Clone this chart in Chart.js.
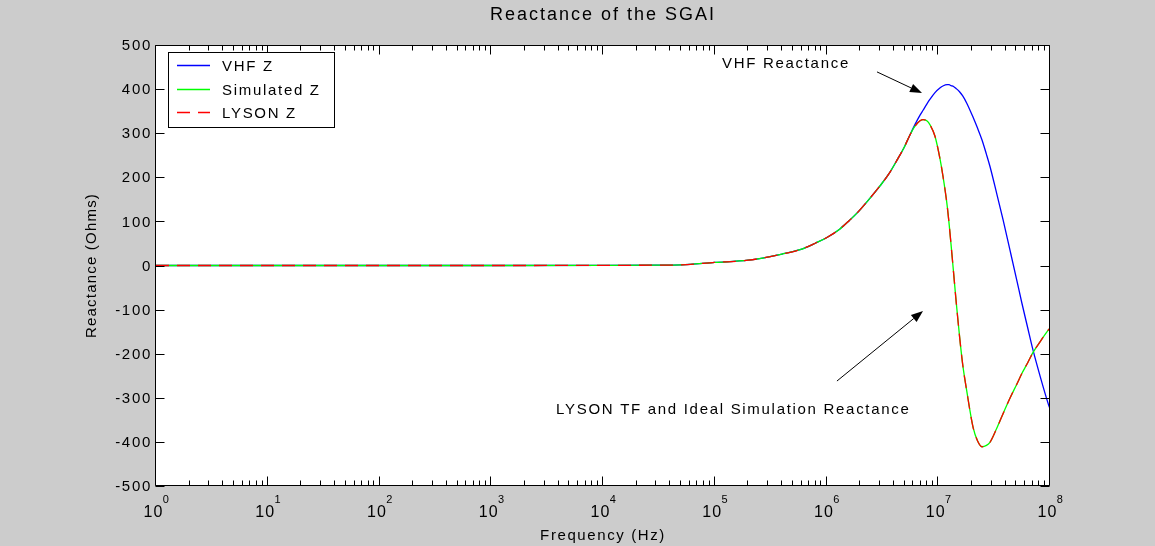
<!DOCTYPE html>
<html>
<head>
<meta charset="utf-8">
<title>Reactance of the SGAI</title>
<script src="https://cdn.jsdelivr.net/npm/chart.js@4"></script>
<style>
  html, body { margin: 0; padding: 0; background: #cccccc; }
  canvas { display: block; }
</style>
</head>
<body>
<canvas id="reactanceChart" width="1155" height="546"></canvas>
<script>
// Frequency points (Hz) shared by the three traces
const frequencies = [1, 10, 100, 1e3, 1e4, 3e4, 5e4, 1e5, 2e5, 4e5, 5.8e5, 8e5,
  1e6, 1.32e6, 1.6e6, 1.91e6, 2.4e6, 3e6, 3.6e6, 4.3e6, 5e6, 5.58e6, 6.2e6, 6.87e6,
  7.31e6, 7.9e6, 8.44e6, 9.35e6, 1.04e7, 1.1e7, 1.2e7, 1.25e7, 1.3e7, 1.37e7, 1.45e7,
  1.55e7, 1.65e7, 1.8e7, 2.05e7, 2.25e7, 2.46e7, 2.7e7, 2.9e7, 3.3e7, 3.8e7, 4.4e7,
  5.07e7, 5.6e7, 6.3e7, 7.05e7, 8.2e7, 9.6e7, 1e8];

// Reactance in Ohms
const vhfZ = [0, 0, 0, 0, 0.3, 0.8, 1.5, 7, 12, 26, 36, 51,
  63, 83, 102, 121, 150, 180, 207, 240, 270, 296, 320, 341,
  352, 366, 377, 392, 403, 407, 410, 410, 408, 406, 401,
  394, 385, 368, 336, 311, 285, 252, 225, 168, 104, 33,
  -36, -85, -140, -192, -253, -312, -325];

const simulatedZ = [0, 0, 0, 0, 0.3, 0.8, 1.5, 7, 12, 26, 36, 51,
  63, 83, 102, 121, 150, 180, 207, 240, 270, 296, 316, 328,
  331, 328, 319, 293, 240, 204, 137, 95, 49, -15, -85,
  -160, -222, -285, -367, -398, -411, -408, -401, -372, -336, -300,
  -268, -245, -221, -197, -172, -147, -142];

const lysonZ = [0, 0, 0, 0, 0.3, 0.8, 1.5, 7, 12, 26, 36, 51,
  63, 83, 102, 121, 150, 180, 207, 240, 270, 296, 316, 328,
  331, 328, 319, 293, 240, 204, 137, 95, 49, -15, -85,
  -160, -222, -285, -367, -398, -411, -408, -401, -372, -336, -300,
  -268, -245, -221, -197, -172, -147, -142];

const seriesNames = ['VHF Z', 'Simulated Z', 'LYSON Z'];
const yTicks = [500, 400, 300, 200, 100, 0, -100, -200, -300, -400, -500];
const decades = [0, 1, 2, 3, 4, 5, 6, 7, 8];

// Text arrows: label point, arrow tail and arrow head in (Hz, Ohms)
const notes = [
  { text: 'VHF Reactance', at: [1.16e5, 457], from: [2.83e6, 439], to: [7.16e6, 391] },
  { text: 'LYSON TF and Ideal Simulation Reactance', at: [3.8e3, -328], from: [1.24e6, -262], to: [7.31e6, -103] }
];

const FONT = '"Liberation Sans", Arial, sans-serif';

function points(ys) {
  return frequencies.map((f, i) => ({ x: f, y: ys[i] }));
}

function setFont(ctx, size, spacing) {
  ctx.font = size + 'px ' + FONT;
  ctx.letterSpacing = spacing + 'px';
  ctx.fillStyle = '#000';
}

function drawArrow(ctx, x0, y0, x1, y1) {
  const ang = Math.atan2(y1 - y0, x1 - x0);
  const len = 12, half = 4.5;
  const bx = x1 - len * Math.cos(ang), by = y1 - len * Math.sin(ang);
  ctx.beginPath();
  ctx.moveTo(x0, y0);
  ctx.lineTo(bx, by);
  ctx.stroke();
  ctx.beginPath();
  ctx.moveTo(x1, y1);
  ctx.lineTo(bx + half * Math.sin(ang), by - half * Math.cos(ang));
  ctx.lineTo(bx - half * Math.sin(ang), by + half * Math.cos(ang));
  ctx.closePath();
  ctx.fill();
}

// Grey figure, white axes box, inward ticks, labels, legend and notes
const matlabFrame = {
  id: 'matlabFrame',
  beforeDraw(chart) {
    const { ctx, chartArea: a } = chart;
    ctx.save();
    ctx.fillStyle = '#cccccc';
    ctx.fillRect(0, 0, chart.width, chart.height);
    ctx.fillStyle = '#ffffff';
    ctx.fillRect(a.left, a.top, a.right - a.left, a.bottom - a.top);
    ctx.restore();
  },
  afterDraw(chart) {
    const { ctx, chartArea: a } = chart;
    const xs = chart.scales.x, ys = chart.scales.y;
    const L = a.left - 0.5, R = a.right - 0.5, T = a.top + 0.5, B = a.bottom - 0.5;
    ctx.save();
    ctx.strokeStyle = '#000';
    ctx.fillStyle = '#000';
    ctx.lineWidth = 1;

    // axes box and ticks
    ctx.beginPath();
    ctx.rect(L, T, R - L, B - T);
    decades.forEach(d => {
      for (let k = 1; k <= 9; k++) {
        if (d === 8 && k > 1) break;
        const px = Math.round(xs.getPixelForValue(k * Math.pow(10, d))) - 0.5;
        const len = k === 1 ? 9 : 5;
        ctx.moveTo(px, B); ctx.lineTo(px, B - len);
        ctx.moveTo(px, T); ctx.lineTo(px, T + len);
      }
    });
    yTicks.forEach(v => {
      const py = Math.round(ys.getPixelForValue(v)) + 0.5;
      ctx.moveTo(L, py); ctx.lineTo(L + 9, py);
      ctx.moveTo(R, py); ctx.lineTo(R - 9, py);
    });
    ctx.stroke();

    // y tick labels
    setFont(ctx, 15, 1.7);
    ctx.textAlign = 'right';
    ctx.textBaseline = 'middle';
    yTicks.forEach(v => {
      ctx.fillText(String(v), a.left - 4, ys.getPixelForValue(v) + 1);
    });

    // x tick labels as 10 with raised exponent
    ctx.textAlign = 'left';
    ctx.textBaseline = 'alphabetic';
    decades.forEach(d => {
      const px = xs.getPixelForValue(Math.pow(10, d));
      setFont(ctx, 16, 1);
      const wBase = ctx.measureText('10').width - 1;
      setFont(ctx, 11, 0);
      const wExp = ctx.measureText(String(d)).width;
      const x0 = px - (wBase + wExp) / 2;
      setFont(ctx, 16, 1);
      ctx.fillText('10', x0, a.bottom + 31);
      setFont(ctx, 11, 0);
      ctx.fillText(String(d), x0 + wBase + 0.5, a.bottom + 17);
    });

    // titles
    ctx.textAlign = 'center';
    ctx.textBaseline = 'middle';
    setFont(ctx, 18, 2);
    ctx.fillText('Reactance of the SGAI', (a.left + a.right) / 2, 15);
    setFont(ctx, 15, 1.6);
    ctx.fillText('Frequency (Hz)', (a.left + a.right) / 2, 536);
    ctx.save();
    ctx.translate(92, (a.top + a.bottom) / 2);
    ctx.rotate(-Math.PI / 2);
    setFont(ctx, 15, 1.2);
    ctx.fillText('Reactance (Ohms)', 0, 0);
    ctx.restore();

    // annotations
    notes.forEach(n => {
      setFont(ctx, 15, 1.7);
      ctx.textAlign = 'left';
      ctx.fillText(n.text, xs.getPixelForValue(n.at[0]), ys.getPixelForValue(n.at[1]));
      drawArrow(ctx,
        xs.getPixelForValue(n.from[0]), ys.getPixelForValue(n.from[1]),
        xs.getPixelForValue(n.to[0]), ys.getPixelForValue(n.to[1]));
    });

    // legend
    const lx = a.left + 12, ly = a.top + 7, lw = 166, lh = 75;
    ctx.fillStyle = '#fff';
    ctx.fillRect(lx, ly, lw, lh);
    ctx.strokeStyle = '#000';
    ctx.strokeRect(lx + 0.5, ly + 0.5, lw, lh);
    chart.data.datasets.forEach((ds, i) => {
      const ry = Math.round(ly + 13 + i * 23.5) + 0.5;
      ctx.strokeStyle = ds.borderColor;
      ctx.lineWidth = 1.3;
      ctx.setLineDash(ds.borderDash || []);
      ctx.beginPath();
      ctx.moveTo(lx + 9, ry);
      ctx.lineTo(lx + 42, ry);
      ctx.stroke();
      ctx.setLineDash([]);
      setFont(ctx, 15, 1.7);
      ctx.textAlign = 'left';
      ctx.fillText(ds.label, lx + 54, ry + 1);
    });
    ctx.restore();
  }
};

new Chart(document.getElementById('reactanceChart'), {
  type: 'line',
  data: {
    datasets: [
      { label: seriesNames[0], data: points(vhfZ), borderColor: '#0000ff', order: 3 },
      { label: seriesNames[1], data: points(simulatedZ), borderColor: '#00ff00', order: 2 },
      { label: seriesNames[2], data: points(lysonZ), borderColor: '#ff0000', borderDash: [13, 8], order: 1 }
    ]
  },
  options: {
    responsive: false,
    animation: false,
    layout: { padding: { left: 156, top: 45, right: 105, bottom: 60 } },
    datasets: {
      line: { borderWidth: 1.3, pointRadius: 0, fill: false, cubicInterpolationMode: 'monotone' }
    },
    scales: {
      x: { type: 'logarithmic', min: 1, max: 1e8, display: false },
      y: { min: -500, max: 500, display: false }
    },
    plugins: { legend: { display: false }, tooltip: { enabled: false } }
  },
  plugins: [matlabFrame]
});
</script>
</body>
</html>
